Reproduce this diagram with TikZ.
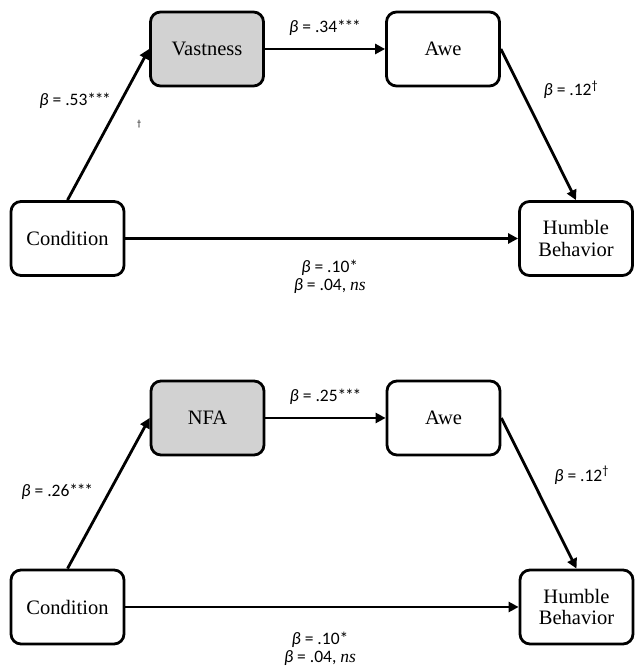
\documentclass[tikz,border=0pt]{standalone}
\usepackage{fontspec}
\setmainfont{Carlito}
\newfontfamily\boxfont{Liberation Serif}
\usetikzlibrary{arrows.meta}
\newcommand{\threestar}{*\kern-1.3pt*\kern-1.3pt*}

\begin{document}
\begin{tikzpicture}[x=1pt, y=1pt,
    box/.style={draw, line width=2.8pt, rounded corners=10pt, minimum width=113pt,
        minimum height=74pt, align=center, font=\boxfont\fontsize{20.5}{21.5}\selectfont},
    med/.style={box, fill=gray!35},
    link/.style={line width=2.8pt, -{Triangle[length=10pt,width=10pt]}},
    coef/.style={font=\fontsize{17.5}{18}\selectfont, align=center, inner sep=1pt}]
    \useasboundingbox (0,0) rectangle (634,668);

    % vastness model
    \node[box] (cond1) at (67.5,429.5) {Condition};
    \node[med] (vast) at (207,619) {Vastness};
    \node[box] (awe1) at (443,619) {Awe};
    \node[box] (hum1) at (576,429.5) {Humble\\Behavior};
    \node[font=\fontsize{9}{9}\selectfont] (mark) at (139,544) {†};

    \draw[link] (cond1.north) -- node[coef, pos=0.66, left=8pt] {\textit{β} = .53\threestar} (vast.west);
    \draw[link] (vast.east) -- node[coef, above=11pt] {\textit{β} = .34\threestar} (awe1.west);
    \draw[link] (awe1.east) -- node[coef, pos=0.27, right=20pt] {\textit{β} = .12\textsuperscript{†}} (hum1.north);
    \draw[link] (cond1.east) -- node[coef, below=19pt, xshift=8pt]
        {\textit{β} = .10*\\\textit{β} = .04, {\boxfont\itshape ns}} (hum1.west);

    % need for accommodation model
    \node[box] (cond2) at (67.5,61) {Condition};
    \node[med] (nfa) at (207.5,250) {NFA};
    \node[box] (awe2) at (443.5,250) {Awe};
    \node[box] (hum2) at (576.5,61) {Humble\\Behavior};

    \draw[link] (cond2.north) -- node[coef, pos=0.51, left=14pt] {\textit{β} = .26\threestar} (nfa.west);
    \draw[link] (nfa.east) -- node[coef, above=11pt] {\textit{β} = .25\threestar} (awe2.west);
    \draw[link] (awe2.east) -- node[coef, pos=0.38, right=22pt] {\textit{β} = .12\textsuperscript{†}} (hum2.north);
    \draw[link] (cond2.east) -- node[coef, below=23pt, xshift=-2pt]
        {\textit{β} = .10*\\\textit{β} = .04, {\boxfont\itshape ns}} (hum2.west);
\end{tikzpicture}
\end{document}
